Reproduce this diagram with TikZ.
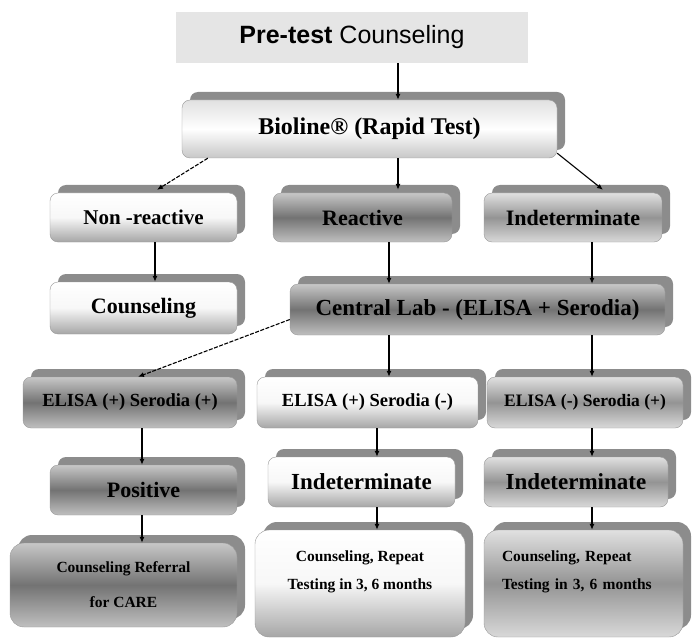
\documentclass[tikz,border=0pt]{standalone}
\usepackage{fontspec}
\setmainfont{Liberation Serif}
\setsansfont{Liberation Sans}
\usetikzlibrary{shadows,arrows.meta}
\begin{document}
\begin{tikzpicture}[x=1pt,y=-1pt,
  box/.style={draw=black!40, rounded corners=8pt, inner sep=0pt,
    general shadow={fill=black!45, shadow xshift=8pt, shadow yshift=8pt}},
  biobox/.style={box, top color=black!12, bottom color=black!22, middle color=white},
  lightbox/.style={box, top color=white, bottom color=black!35, middle color=black!3},
  darkbox/.style={box, top color=black!22, bottom color=black!25, middle color=black!55},
  midbox/.style={box, top color=black!12, bottom color=black!15, middle color=black!42},
  arr/.style={-{Latex[length=6pt,width=5pt]}, line width=1.1pt},
  dasharr/.style={arr, dash pattern=on 4pt off 1.5pt}]
\useasboundingbox (0,0) rectangle (693,639);
\node[fill=black!10, minimum width=352pt, minimum height=51pt, font=\sffamily\fontsize{25}{30}\selectfont] (pre) at (352,37.5) {\textbf{Pre-test} Counseling};
\node[biobox, minimum width=375pt, minimum height=58pt, font=\bfseries\fontsize{24}{28}\selectfont] (bio) at (369.5,129) {Bioline® (Rapid Test)};
\node[lightbox, minimum width=187pt, minimum height=49pt, font=\bfseries\fontsize{21}{25}\selectfont] (nonreac) at (143.5,217.5) {Non -reactive};
\node[darkbox, minimum width=179pt, minimum height=49pt, font=\bfseries\fontsize{22}{26}\selectfont] (reac) at (362.5,217.5) {Reactive};
\node[midbox, minimum width=178pt, minimum height=49pt, font=\bfseries\fontsize{22}{26}\selectfont] (indet) at (573,217.5) {Indeterminate};
\node[lightbox, minimum width=187pt, minimum height=52pt, font=\bfseries\fontsize{22}{26}\selectfont] (couns) at (143.5,308) {Counseling};
\node[darkbox, minimum width=375pt, minimum height=51pt, font=\bfseries\fontsize{23}{27}\selectfont] (lab) at (477.5,309.5) {Central Lab - (ELISA + Serodia)};
\node[darkbox, minimum width=214pt, minimum height=51pt, font=\bfseries\fontsize{18.5}{22}\selectfont] (epp) at (130,402.5) {ELISA (+) Serodia (+)};
\node[lightbox, minimum width=221pt, minimum height=51pt, font=\bfseries\fontsize{18.5}{22}\selectfont] (epm) at (367.5,402.5) {ELISA (+) Serodia (-)};
\node[midbox, minimum width=196pt, minimum height=51pt, font=\bfseries\fontsize{17.5}{21}\selectfont] (emp) at (585,402.5) {ELISA (-) Serodia (+)};
\node[darkbox, minimum width=187pt, minimum height=50pt, font=\bfseries\fontsize{22}{26}\selectfont] (pos) at (143.5,490) {Positive};
\node[lightbox, minimum width=187pt, minimum height=50pt, font=\bfseries\fontsize{23}{27}\selectfont] (indm) at (361.5,482) {Indeterminate};
\node[midbox, minimum width=184pt, minimum height=50pt, font=\bfseries\fontsize{23}{27}\selectfont] (indr) at (576,482) {Indeterminate};
\node[darkbox, rounded corners=14pt, minimum width=227pt, minimum height=84pt, align=center, font=\bfseries\fontsize{15.5}{35}\selectfont] (care) at (123.5,585) {Counseling Referral\\for CARE};
\node[lightbox, rounded corners=14pt, minimum width=210pt, minimum height=107pt, align=center, font=\bfseries\fontsize{15.5}{28}\selectfont] (repm) at (360,583.5) {Counseling, Repeat\\Testing in 3, 6 months\\[-10pt]\strut};
\node[midbox, rounded corners=14pt, inner xsep=18pt, text width=163pt, minimum height=107pt, align=left, font=\bfseries\fontsize{15.5}{28}\selectfont] (repr) at (583.5,583.5) {Counseling, Repeat\\Testing in 3, 6 months\\[-10pt]\strut};
\draw[arr] ([xshift=46pt]pre.south) to ([xshift=28.5pt]bio.north);
\draw[dasharr] ([xshift=26pt]bio.south west) to ([xshift=13.5pt,yshift=3pt]nonreac.north);
\draw[arr] ([xshift=28.5pt]bio.south) to ([xshift=35.5pt,yshift=3pt]reac.north);
\draw[arr] ([yshift=5pt]bio.south east) to ([xshift=30pt,yshift=3pt]indet.north);
\draw[arr] ([xshift=11.5pt]nonreac.south) to ([xshift=11.5pt]couns.north);
\draw[arr] ([xshift=26.5pt]reac.south) to ([xshift=-88.5pt]lab.north);
\draw[arr] ([xshift=19pt]indet.south) to ([xshift=114.5pt]lab.north);
\draw[dasharr] ([yshift=-10pt]lab.west) to ([xshift=8pt]epp.north);
\draw[arr] ([xshift=-88.5pt]lab.south) to ([xshift=21.5pt]epm.north);
\draw[arr] ([xshift=114.5pt]lab.south) to ([xshift=7pt]emp.north);
\draw[arr] ([xshift=12pt]epp.south) to ([xshift=-1.5pt]pos.north);
\draw[arr] ([xshift=9.5pt]epm.south) to ([xshift=15.5pt]indm.north);
\draw[arr] ([xshift=7pt]emp.south) to ([xshift=16pt]indr.north);
\draw[arr] ([xshift=-1.5pt]pos.south) to ([xshift=18.5pt]care.north);
\draw[arr] ([xshift=15.5pt]indm.south) to ([xshift=17pt]repm.north);
\draw[arr] ([xshift=16pt]indr.south) to ([xshift=8.5pt]repr.north);
\end{tikzpicture}
\end{document}
